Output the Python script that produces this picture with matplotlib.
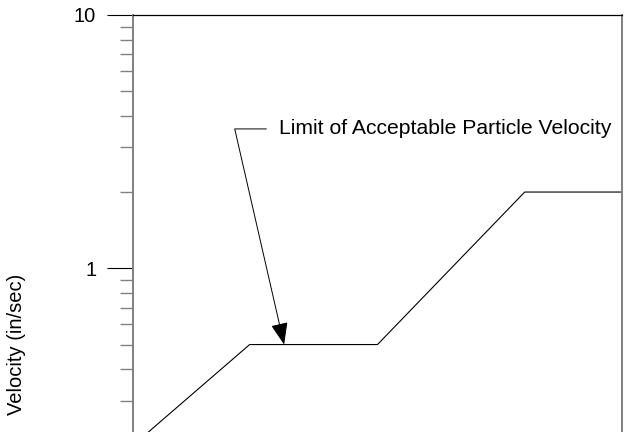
import matplotlib
matplotlib.use("Agg")
import matplotlib.pyplot as plt
from matplotlib.ticker import LogLocator, NullFormatter, FixedLocator, FixedFormatter

plt.rcParams['font.family'] = ['Liberation Sans', 'DejaVu Sans']

# limit curve: frequency (Hz) vs particle velocity (in/sec)
freq = [1, 3, 10, 40, 100]
velocity = [0.2, 0.5, 0.5, 2.0, 2.0]

ytick_vals = [1, 10]
ytick_labels = ["1", "10"]

note = "Limit of Acceptable Particle Velocity"
note_tip = (4.15, 0.5)
note_text = (3.95, 3.55)

fig = plt.figure(figsize=(6.24, 4.32), dpi=100)
# the original chart is cropped at the bottom, so the axes run past the figure
ax = fig.add_axes([133 / 624, 0.9653 - 1.1727, 489 / 624, 1.1727])

ax.plot(freq, velocity, color="black", lw=0.8)

ax.set_xscale("log")
ax.set_yscale("log")
ax.set_xlim(1, 100)
ax.set_ylim(0.1, 10)

ax.yaxis.set_major_locator(FixedLocator(ytick_vals))
ax.yaxis.set_major_formatter(FixedFormatter(ytick_labels))
ax.yaxis.set_minor_locator(LogLocator(base=10, subs=range(2, 10)))
ax.yaxis.set_minor_formatter(NullFormatter())
ax.tick_params(axis="y", which="major", direction="out", length=18.5, width=0.8,
               color="black", labelsize=14.5, pad=8)
ax.tick_params(axis="y", which="minor", direction="out", length=9.5, width=1.0,
               color="#808080")
ax.tick_params(axis="x", which="both", bottom=False, labelbottom=False)

ax.spines["left"].set_color("#808080")
ax.spines["left"].set_linewidth(1.4)
ax.spines["right"].set_color("#808080")
ax.spines["right"].set_linewidth(1.4)
ax.spines["top"].set_color("black")
ax.spines["top"].set_linewidth(0.9)

ax.set_ylabel("Velocity (in/sec)", fontsize=14.5, va="center")
ax.yaxis.set_label_coords(17 / 624, 1 - 344 / 432, transform=fig.transFigure)

ax.annotate(note, xy=note_tip, xytext=note_text, fontsize=15.2,
            ha="left", va="center",
            arrowprops=dict(arrowstyle="-|>,head_length=0.9,head_width=0.35",
                            connectionstyle="angle,angleA=0,angleB=102.9,rad=0",
                            relpos=(0, 0.5), shrinkA=7, shrinkB=0,
                            color="black", lw=0.7))

fig.savefig("out.png", dpi=100)
